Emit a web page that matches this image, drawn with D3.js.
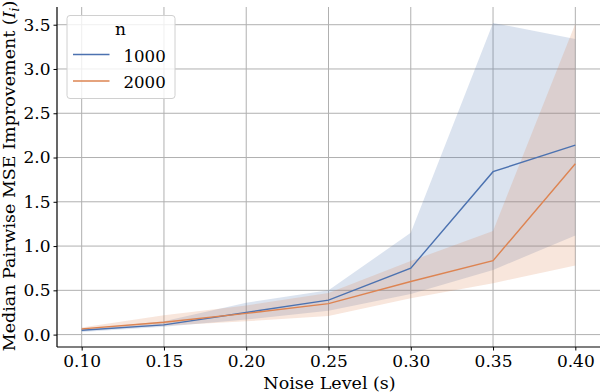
<!DOCTYPE html>
<html><head><meta charset="utf-8">
<script src="https://cdn.jsdelivr.net/npm/d3@7"></script>
<style>body{margin:0;background:#fff}svg{display:block}text{font-family:"DejaVu Serif",serif;fill:#000}</style>
</head><body><svg id="c" width="602" height="392"></svg>
<script>
const noise = [0.10, 0.15, 0.20, 0.25, 0.30, 0.35, 0.40];
const seriesNames = ["1000", "2000"];
const mean1000 = [0.05, 0.11, 0.25, 0.39, 0.75, 1.84, 2.14];
const lo1000   = [0.03, 0.09, 0.17, 0.27, 0.46, 0.73, 1.12];
const hi1000   = [0.06, 0.15, 0.36, 0.50, 1.15, 3.52, 3.34];
const mean2000 = [0.065, 0.14, 0.24, 0.35, 0.60, 0.835, 1.93];
const lo2000   = [0.05, 0.10, 0.15, 0.21, 0.41, 0.58, 0.78];
const hi2000   = [0.08, 0.22, 0.33, 0.47, 0.83, 1.17, 3.51];
const xTicks = [0.10, 0.15, 0.20, 0.25, 0.30, 0.35, 0.40];
const yTicks = [0.0, 0.5, 1.0, 1.5, 2.0, 2.5, 3.0, 3.5];
const colors = ["#4c72b0", "#dd8452"];

const svg = d3.select("#c");
const L = 57, R = 600, T = 7, B = 347;
const x = d3.scaleLinear().domain([0.085, 0.415]).range([L, R]);
const y = d3.scaleLinear().domain([-0.14, 3.70]).range([B, T]);

// grid
const g = svg.append("g");
g.selectAll(".gx").data(xTicks).join("line")
  .attr("x1", d => x(d)).attr("x2", d => x(d)).attr("y1", T).attr("y2", B)
  .attr("stroke", "#b0b0b0").attr("stroke-width", 1);
g.selectAll(".gy").data(yTicks).join("line")
  .attr("x1", L).attr("x2", R).attr("y1", d => y(d)).attr("y2", d => y(d))
  .attr("stroke", "#b0b0b0").attr("stroke-width", 1);

const series = [
  {name: seriesNames[0], mean: mean1000, lo: lo1000, hi: hi1000, color: colors[0]},
  {name: seriesNames[1], mean: mean2000, lo: lo2000, hi: hi2000, color: colors[1]}
];

const area = d3.area().x((d, i) => x(noise[i])).y0(d => y(d[0])).y1(d => y(d[1]));
const line = d3.line().x((d, i) => x(noise[i])).y(d => y(d));

series.forEach(s => {
  svg.append("path").datum(s.lo.map((v, i) => [v, s.hi[i]]))
    .attr("d", area).attr("fill", s.color).attr("fill-opacity", 0.2).attr("stroke", "none");
});
series.forEach(s => {
  svg.append("path").datum(s.mean).attr("d", line)
    .attr("fill", "none").attr("stroke", s.color).attr("stroke-width", 1.4);
});

// axes
const xAxis = d3.axisBottom(x).tickValues(xTicks).tickFormat(d3.format(".2f")).tickSizeOuter(0).tickSize(3.5).tickPadding(4.5);
const yAxis = d3.axisLeft(y).tickValues(yTicks).tickFormat(d3.format(".1f")).tickSizeOuter(0).tickSize(3.5).tickPadding(3);
const gx = svg.append("g").attr("transform", `translate(0,${B})`).call(xAxis);
const gy = svg.append("g").attr("transform", `translate(${L},0)`).call(yAxis);
[gx, gy].forEach(a => {
  a.select(".domain").attr("stroke", "#000").attr("stroke-width", 1.2);
  a.selectAll(".tick line").attr("stroke", "#000").attr("stroke-width", 1);
  a.selectAll(".tick text").attr("font-family", "DejaVu Serif").attr("font-size", 17).attr("fill", "#000");
});
gx.select(".domain").attr("d", `M${L},0H${R}`);
gy.select(".domain").attr("d", `M0,${B}V${T}`);

// axis labels
svg.append("text").attr("x", (L + R) / 2 + 1).attr("y", 389).attr("text-anchor", "middle")
  .attr("font-size", 17.5).text("Noise Level (s)");
const yl = svg.append("text").attr("transform", `translate(15,${(T + B) / 2 - 1}) rotate(-90)`)
  .attr("text-anchor", "middle").attr("font-size", 17.5);
yl.append("tspan").text("Median Pairwise MSE Improvement (");
yl.append("tspan").attr("font-style", "italic").text("I");
yl.append("tspan").attr("font-style", "italic").attr("font-size", 12).attr("dy", 4).text("i");
yl.append("tspan").attr("dy", -4).text(")");

// legend
const lg = svg.append("g");
lg.append("rect").attr("x", 67).attr("y", 15.5).attr("width", 108).attr("height", 83).attr("rx", 3)
  .attr("fill", "#fff").attr("fill-opacity", 0.8).attr("stroke", "#d0d0d0").attr("stroke-width", 1);
lg.append("text").attr("x", 120.5).attr("y", 35).attr("text-anchor", "middle").attr("font-size", 17).text("n");
series.forEach((s, i) => {
  const yy = 54.5 + i * 26.5;
  lg.append("line").attr("x1", 73).attr("x2", 109.5).attr("y1", yy).attr("y2", yy)
    .attr("stroke", s.color).attr("stroke-width", 1.4);
  lg.append("text").attr("x", 123.5).attr("y", yy + 7).attr("font-size", 16.6).text(s.name);
});
</script></body></html>
